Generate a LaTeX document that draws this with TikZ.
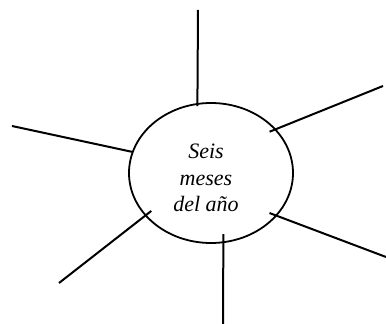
\documentclass[tikz,border=0pt]{standalone}
\usepackage{fontspec}
\setmainfont{Liberation Serif}
\usepackage{tikz}
\usetikzlibrary{shapes.geometric}

\begin{document}
\begin{tikzpicture}[x=1pt, y=1pt, every node/.style={font=\itshape\fontsize{22}{26.5}\selectfont},
	sun/.style={draw, ellipse, line width=1.8pt, minimum width=164pt, minimum height=140pt, inner sep=0pt},
	ray/.style={line width=2pt}]
	\useasboundingbox (0,0) rectangle (386,324);
	\node[sun] (month) at (211,151) {};
	\node[align=center] (label) at (206,146) {Seis\\meses\\del año};
	\coordinate (n) at (198,314);
	\coordinate (ne) at (383,238);
	\coordinate (w) at (12,198);
	\coordinate (se) at (386,67);
	\coordinate (sw) at (59,41);
	\coordinate (s) at (223,0);
	\foreach \a/\p/\s in {101/n/-3pt, 34.6/ne/-7pt, 165/w/0pt, -33.2/se/-8pt, 213.2/sw/-8pt, -80/s/-9pt} {
		\draw[ray, shorten <=\s] (month.\a) -- (\p);
	}
\end{tikzpicture}
\end{document}
